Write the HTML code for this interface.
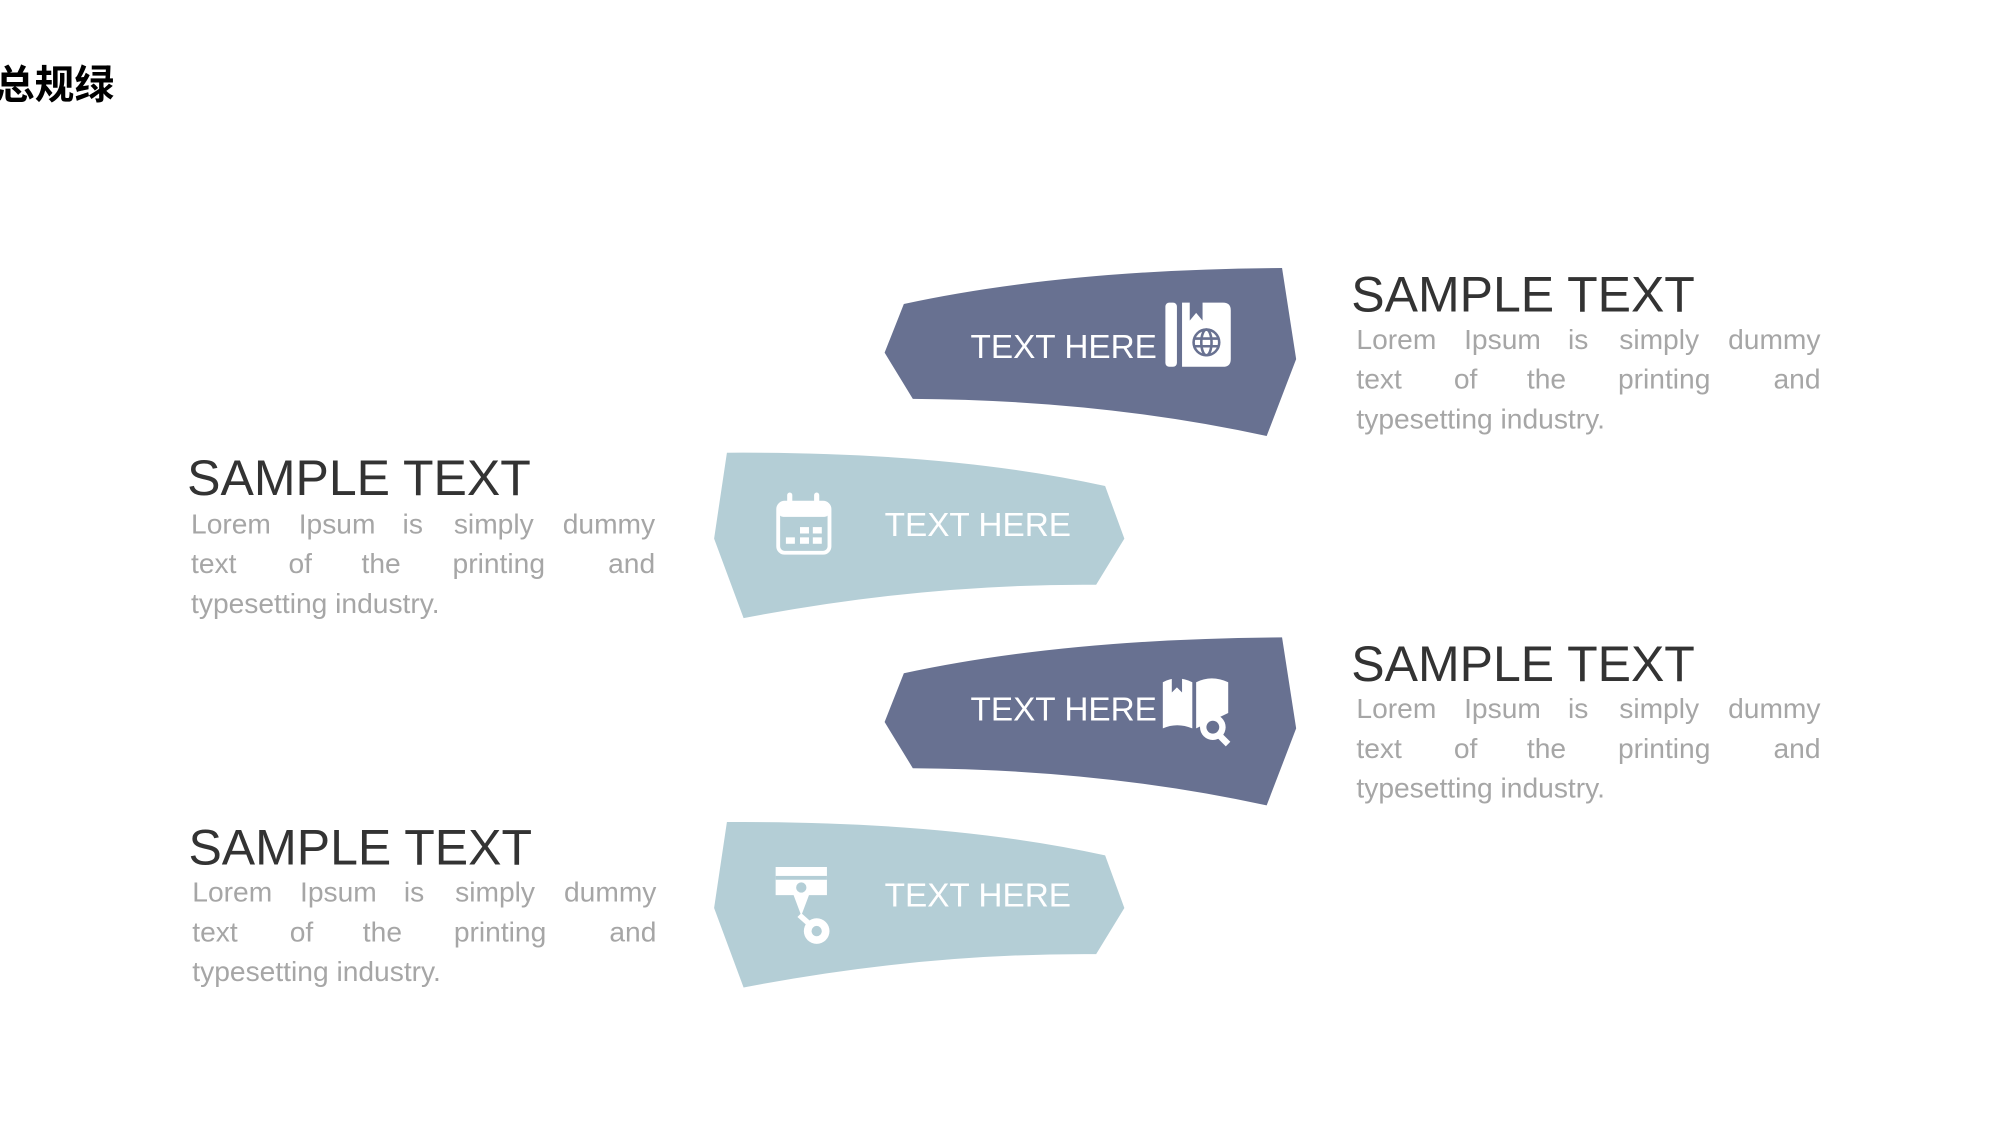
<!DOCTYPE html>
<html><head><meta charset="utf-8"><style>
html,body{margin:0;padding:0;background:#fff;}
svg{display:block;}
</style></head><body>
<svg width="2000" height="1126" viewBox="0 0 1560 878" preserveAspectRatio="none" xmlns="http://www.w3.org/2000/svg">
<text x="-4" y="77" font-family="'Liberation Sans','Noto Sans CJK SC',sans-serif" font-size="31" font-weight="bold" fill="#000">总规绿</text>

<defs>
<g id="dark"><path d="M705,237 Q830,210 1000,209 L1011,280 L988,340 Q860,312 712,311 L690,275 Z" fill="#687191"/></g>
<g id="light"><path d="M567,353 Q740,352 862,379 L877,420 L855,456 Q720,455 580,482 L557,420 Z" fill="#b4ced6"/></g>
<g id="p1">
<text x="0" y="0">Lorem</text><text x="84" y="0">Ipsum</text><text x="165" y="0">is</text><text x="205" y="0">simply</text><text x="362" y="0" text-anchor="end">dummy</text>
<text x="0" y="31">text</text><text x="76" y="31">of</text><text x="133" y="31">the</text><text x="204" y="31">printing</text><text x="362" y="31" text-anchor="end">and</text>
<text x="0" y="62">typesetting industry.</text>
</g>
</defs>

<use href="#dark"/>
<use href="#dark" transform="translate(0,288)"/>
<use href="#light"/>
<use href="#light" transform="translate(0,288)"/>

<g font-family="'Liberation Sans',sans-serif" font-size="26" fill="#fff">
<text x="757" y="279">TEXT HERE</text>
<text x="757" y="562">TEXT HERE</text>
<text x="690" y="418">TEXT HERE</text>
<text x="690" y="707">TEXT HERE</text>
</g>

<g fill="#fff">
<rect x="909" y="236" width="9" height="50" rx="3"/>
<path d="M922,236 L928,236 L928,250 L933,244 L938,250 L938,236 L954,236 Q960,236 960,242 L960,280 Q960,286 954,286 L922,286 Z"/>
</g>
<g fill="none" stroke="#687191" stroke-width="2">
<circle cx="941" cy="267" r="10"/>
<ellipse cx="941" cy="267" rx="4" ry="10"/>
<line x1="931" y1="264" x2="951" y2="264"/><line x1="931" y1="270" x2="951" y2="270"/>
</g>

<g fill="#fff">
<path d="M907,532 Q918,526 930,532 L930,568 Q918,563 907,568 Z"/>
<path d="M933,532 Q945,526 958,532 L958,556 L933,568 Z"/>
<circle cx="946" cy="567" r="10"/>
<rect x="952" y="572" width="5" height="10" transform="rotate(-45 954 577)"/>
</g>
<circle cx="946" cy="567" r="5" fill="#687191"/>
<path d="M914,528 L914,540 L918,536 L922,540 L922,528 Z" fill="#687191"/>

<g fill="none" stroke="#fff" stroke-width="3">
<rect x="607" y="392" width="40" height="39" rx="5"/>
</g>
<rect x="607" y="392" width="40" height="11" rx="4" fill="#fff"/>
<g fill="#fff">
<rect x="614" y="384" width="4" height="9" rx="2"/><rect x="635" y="384" width="4" height="9" rx="2"/>
<rect x="624" y="411" width="7" height="5"/><rect x="634" y="411" width="7" height="5"/>
<rect x="613" y="419" width="7" height="5"/><rect x="624" y="419" width="7" height="5"/><rect x="634" y="419" width="7" height="5"/>
</g>

<g fill="#fff">
<path d="M605,676 L645,676 L645,698 L631,698 L625,714 L619,698 L605,698 Z"/>
<circle cx="637" cy="726" r="10"/>
<path d="M625,712 L634,720 L631,723 L622,715 Z"/>
</g>
<rect x="605" y="683" width="40" height="3" fill="#b4ced6"/>
<circle cx="625" cy="692" r="4" fill="#b4ced6"/>
<circle cx="637" cy="726" r="4" fill="#b4ced6"/>

<g font-family="'Liberation Sans',sans-serif" font-size="39" fill="#333">
<text x="1054" y="243">SAMPLE TEXT</text>
<text x="1054" y="531">SAMPLE TEXT</text>
<text x="146" y="386">SAMPLE TEXT</text>
<text x="147" y="674">SAMPLE TEXT</text>
</g>
<g font-family="'Liberation Sans',sans-serif" font-size="22" fill="#a6a6a6">
<use href="#p1" x="1058" y="272"/>
<use href="#p1" x="1058" y="560"/>
<use href="#p1" x="149" y="416"/>
<use href="#p1" x="150" y="703"/>
</g>
</svg>
</body></html>
